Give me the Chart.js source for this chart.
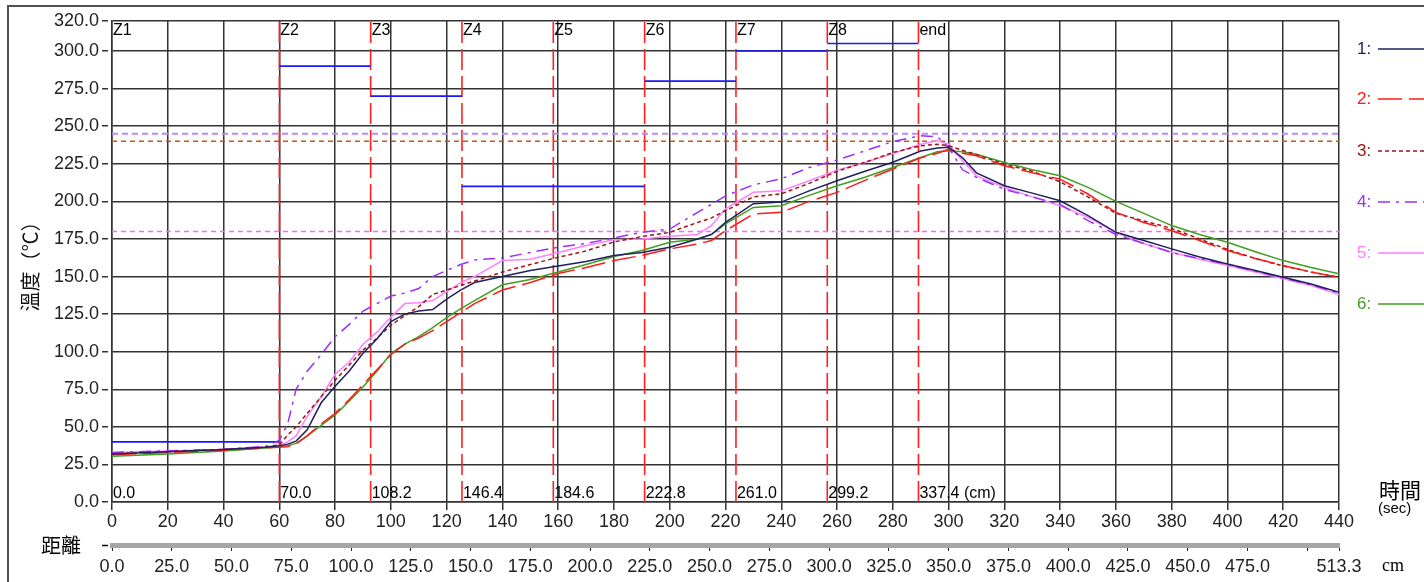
<!DOCTYPE html>
<html><head><meta charset="utf-8">
<script src="https://cdn.jsdelivr.net/npm/chart.js@4.4.1/dist/chart.umd.min.js"></script>
<style>html,body{margin:0;padding:0;background:#fff;overflow:hidden}canvas{display:block}</style>
</head><body>
<canvas id="c" width="1424" height="582"></canvas>
<script>
// ---- data ----
const times = [0,20,40,55,60, 63,66,70,75,80, 85,90,95,100,105, 110,115,120,125,130, 140,150,160,170,180, 190,200,210,215,220, 230,240,250,260,270, 280,290,296,300,305, 310,320,330,340,350, 360,370,380,390,400, 410,420,430,440];
const series1 = [32,33.5,35,36.5,37.5, 38.5,40.5,48,66,77, 87,99,108.5,120,125, 127,128,135,141,146, 150,154,157,160,164, 166,169.5,175,178,186, 198.5,199.5,207,213.7,220, 226,233.5,235.5,236,229, 219,210.4,205.5,200.4,190.5, 179.4,174,168.4,163,158.4, 154,149.5,145,139.6];
const series2 = [31.5,33,34.5,36,36.5, 37,38.5,44,52,59, 68,78,88,98,105, 109,114,120,126,132, 141,146,152,156,160.6, 164,168.4,171.6,174,180.5, 191.6,192.7,200,206,214, 221.5,229,232,234.7,232, 230.3,223.7,219,214.8,204.9, 192.7,186,180.5,174,167.3, 162,157.3,153,149.5];
const series3 = [32,33.5,35,36.5,38, 44.5,50,59,70,81, 91,101,109,117.5,124, 130,138,141,144,147, 153,158,162.8,167,173, 176.6,179.4,186,189,193.8, 203,205,212,220,226, 232.5,237,238,237,234, 231,224.8,220,213,203, 192,187,182,175,168, 162,157,153,149.5];
const series4 = [33,34,35,37,41, 52,75,87,98,110, 118,127,132,137,139, 142,150,154,158,161, 162.4,166,169.5,172,175.7, 179.4,181.6,192.7,198,203.7, 211,215,222.5,227.5,233.6, 239.8,243.6,243,236,221, 216,208,203,198,187.2, 178,172,166,162,158, 153.5,149,144.5,139];
const series5 = [33,34,35,36.5,38, 40,44,57,70,85, 93,105,113,123,132, 132.5,134,140,146,150, 160.6,161.5,166,170.6,174.4, 175,176.8,178,184,195, 206,207,213.7,220.8,225.9, 231.8,238,240.3,238,227, 217,209.3,203,197.1,189.4, 179.4,172,166.1,161.5,157.3, 153,148.5,144,138];
const series6 = [30.5,32,34,36,36.7, 37.5,39,44,51,58, 67,76.5,87,98.7,105, 110,116,122.6,128.5,134, 144.5,148,153,158,163.3, 167.3,172.8,175,178,185, 196,197.1,204,210.4,216, 222.5,229.2,233,233.6,233, 231.4,225.9,221,217,209.3, 200,192,183.9,178,172.8, 166.5,160.6,156,151.8];
const seriesNames = ['1:','2:','3:','4:','5:','6:'];
const zoneNames = ['Z1','Z2','Z3','Z4','Z5','Z6','Z7','Z8','end'];
const zoneTimes = [0,60,92.75,125.5,158.25,191,223.75,256.5,289.2];
const zoneDistLabels = ['0.0','70.0','108.2','146.4','184.6','222.8','261.0','299.2','337.4 (cm)'];
const zoneSetpoints = [40,290,270,210,210,280,300,305];
const refLevels = [245,240,180];
const yTickValues = [0,25,50,75,100,125,150,175,200,225,250,275,300,320];
const distTickValues = [0,25,50,75,100,125,150,175,200,225,250,275,300,325,350,375,400,425,450,475,500,513.3];
const distUnlabelled = [500];

// ---- build datasets ----
const curveStyles = [
  {color:'#202060', dash:[]},
  {color:'#ff1a1a', dash:[24,7]},
  {color:'#a01414', dash:[4,3]},
  {color:'#9a30ff', dash:[12,6,3,6]},
  {color:'#ff80ff', dash:[]},
  {color:'#3f9f1f', dash:[]}
];
const allSeries = [series1,series2,series3,series4,series5,series6];
const datasets = allSeries.map((s,i)=>({
  label: seriesNames[i],
  data: times.map((t,j)=>({x:t,y:s[j]})),
  borderColor: curveStyles[i].color,
  borderDash: curveStyles[i].dash,
  borderWidth: 1.5,
  pointRadius: 0,
  tension: 0,
  order: i+1
}));
// setpoint segments
const spData = [];
zoneSetpoints.forEach((v,i)=>{
  spData.push({x:zoneTimes[i],y:v},{x:zoneTimes[i+1],y:v},{x:zoneTimes[i+1],y:null});
});
datasets.push({label:'sp',data:spData,borderColor:'#1a1aff',borderWidth:1.6,pointRadius:0,spanGaps:false,order:15});
// reference levels
const refStyles = [
  {color:'#b48cff', dash:[6,4], w:2},
  {color:'#c0581c', dash:[5,4], w:1.5},
  {color:'#ff66ff', dash:[5,4], w:1.5}
];
refLevels.forEach((v,i)=>{
  datasets.push({label:'ref'+i,data:[{x:0,y:v},{x:440,y:v}],borderColor:refStyles[i].color,borderDash:refStyles[i].dash,borderWidth:refStyles[i].w,pointRadius:0,order:12});
});
// zone boundary lines
const zData = [];
zoneTimes.slice(1).forEach(t=>{ zData.push({x:t,y:0},{x:t,y:320},{x:t,y:null}); });
datasets.push({label:'zones',data:zData,borderColor:'#ff2020',borderDash:[21,6],borderWidth:1.6,pointRadius:0,spanGaps:false,order:20});

const FONT = 'Liberation Sans';
const CJK = '"Noto Sans CJK TC"';

const decor = {
  id:'decor',
  beforeDraw(chart){
    const c = chart.ctx;
    c.save();
    c.strokeStyle = '#505050'; c.lineWidth = 2;
    c.beginPath(); c.moveTo(8,582); c.lineTo(8,6); c.lineTo(1424,6); c.stroke();
    c.restore();
  },
  afterDatasetsDraw(chart){
    const c = chart.ctx, xs = chart.scales.x, a = chart.chartArea;
    c.save();
    c.fillStyle = '#000';
    c.font = '16px ' + FONT;
    c.textBaseline = 'top'; c.textAlign = 'left';
    zoneNames.forEach((n,i)=>{ c.fillText(n, xs.getPixelForValue(zoneTimes[i])+1, a.top+2); });
    c.textBaseline = 'alphabetic';
    zoneDistLabels.forEach((n,i)=>{ c.fillText(n, xs.getPixelForValue(zoneTimes[i])+1, a.bottom-4); });
    c.restore();
  },
  afterDraw(chart){
    const c = chart.ctx;
    c.save();
    // legend
    const legY = [49,99,151,202,253,304];
    chart.data.datasets.slice(0,6).forEach((d,i)=>{
      c.fillStyle = d.borderColor;
      c.font = '17px ' + FONT;
      c.textBaseline = 'middle'; c.textAlign = 'left';
      c.fillText(seriesNames[i], 1357, legY[i]);
      c.strokeStyle = d.borderColor; c.lineWidth = 1.6;
      c.setLineDash(d.borderDash || []);
      c.beginPath(); c.moveTo(1378, legY[i]); c.lineTo(1424, legY[i]); c.stroke();
      c.setLineDash([]);
    });
    // right side labels
    c.fillStyle = '#000';
    c.textBaseline = 'middle'; c.textAlign = 'left';
    c.font = '21px ' + CJK;
    c.fillText('時間', 1379, 490);
    c.font = '15px ' + FONT;
    c.fillText('(sec)', 1378, 509);
    c.font = '18px "Liberation Serif"';
    c.fillText('cm', 1382, 566);
    c.font = '20px ' + CJK;
    c.fillText('距離', 41, 545);
    c.strokeStyle = '#000'; c.lineWidth = 1.5;
    c.beginPath(); c.moveTo(102,545.5); c.lineTo(108,545.5); c.stroke();
    c.restore();
  }
};

new Chart(document.getElementById('c'), {
  type:'line',
  data:{datasets},
  plugins:[decor],
  options:{
    responsive:false, animation:false, devicePixelRatio:1,
    layout:{padding:{left:0,right:85,top:21,bottom:0}},
    plugins:{legend:{display:false},tooltip:{enabled:false}},
    scales:{
      y:{
        type:'linear', min:0, max:320, position:'left',
        afterBuildTicks(s){ s.ticks = yTickValues.map(v=>({value:v})); },
        afterFit(s){ s.width = 112; },
        ticks:{callback:v=>Number(v).toFixed(1), font:{family:FONT,size:18}, color:'#222', padding:3, autoSkip:false},
        grid:{color:'#333', lineWidth:1.5, tickLength:10, tickBorderDash:[6,20], tickColor:'#333', tickWidth:1.5},
        border:{color:'#333', width:1.5},
        title:{display:true, text:'溫度（℃）', font:{family:'Noto Sans CJK TC', size:20}, color:'#111', padding:{top:18,bottom:0}}
      },
      x:{
        type:'linear', min:0, max:440, position:'bottom',
        afterBuildTicks(s){ const t=[]; for(let v=0; v<=440; v+=20) t.push({value:v}); s.ticks=t; },
        afterFit(s){ s.height = 43; },
        ticks:{font:{family:FONT,size:18}, color:'#222', padding:1, maxRotation:0, autoSkip:false},
        grid:{color:'#333', lineWidth:1.5, tickLength:8, tickColor:'#333'},
        border:{color:'#333', width:1.5}
      },
      x2:{
        type:'linear', min:0, max:513.3, position:'bottom', axis:'x',
        afterBuildTicks(s){ s.ticks = distTickValues.map(v=>({value:v})); },
        afterFit(s){ s.height = 37; },
        ticks:{callback:v=> distUnlabelled.includes(v) ? '' : Number(v).toFixed(1), font:{family:FONT,size:18}, color:'#222', padding:5, maxRotation:0, autoSkip:false},
        grid:{drawOnChartArea:false, tickLength:6, color:'#222', lineWidth:1},
        border:{color:'#a6a6a6', width:5}
      }
    }
  }
});
</script>
</body></html>
